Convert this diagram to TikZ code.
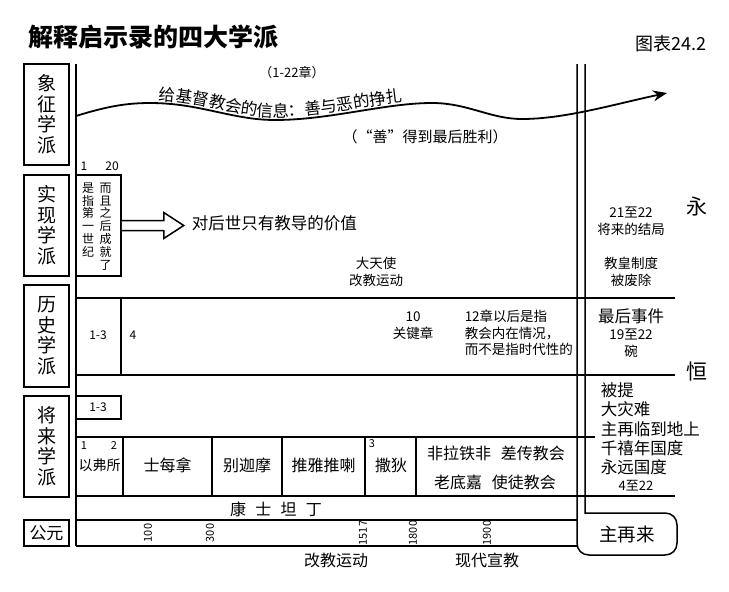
\documentclass[tikz,border=0pt]{standalone}
\usepackage{fontspec}
\setmainfont{Noto Sans CJK SC}
\usepackage{tikz}
\usetikzlibrary{calc,decorations.text,arrows.meta}
\newcommand{\fsz}[2]{\fontsize{#1}{#2}\selectfont}

\begin{document}
\begin{tikzpicture}[x=1pt,y=-1pt,line width=1.5pt,
  school/.style={draw,minimum width=45,minimum height=101,inner sep=0pt,align=center,font=\fsz{19}{20.5}},
  note/.style={inner sep=0pt,align=center,font=\fsz{13.5}{16.5}},
  church/.style={inner sep=0pt,align=center,font=\fsz{16}{18}},
  year/.style={inner sep=0pt,rotate=90,font=\fsz{11}{11}},
  big/.style={inner sep=0pt,font=\fsz{21}{21}}]
\def\XL{76};\def\XA{577};\def\XB{585};\def\XR{675};
\useasboundingbox (0,0) rectangle (729,592);
% heading
\node[anchor=west,inner sep=0pt,font=\fsz{25}{25}\bfseries] (title) at (28,37) {解释启示录的四大学派};
\node[inner sep=0pt,font=\fsz{18}{18}] (chart) at (671,44) {图表24.2};
% schools
\node[school] (symb) at (46.5,114.5) {象\\征\\学\\派};
\node[school] (pret) at (46.5,225.5) {实\\现\\学\\派};
\node[school,minimum height=102] (hist) at (46.5,336) {历\\史\\学\\派};
\node[school] (futu) at (46.5,446.5) {将\\来\\学\\派};
\node[school,minimum height=26,font=\fsz{17}{17}] (ad) at (46.5,533) {公元};
% frame
\draw (\XL,64) -- (\XL,546);
\draw (\XB,64) -- (\XB,513) -- (665,513) .. controls (672,513) and (677,518) .. (677,525)
  -- (677,543) .. controls (677,550) and (672,555) .. (665,555)
  -- (589,555) .. controls (582,555) and (\XA,550) .. (\XA,543) -- (\XA,64);
\draw (\XL,298) -- (\XR,298);
\draw (\XL,375) -- (\XR,375);
\draw (\XL,437) -- (595,437);
\draw (\XL,496) -- (\XR,496);
\draw (\XL,520) -- (\XA,520);
\draw (\XL,546) -- (\XA,546);
\draw (121,298) -- (121,375);
\foreach \x in {123,212,282,365,416} \draw (\x,437) -- (\x,496);
% symbolic
\def\wave{(76,116) .. controls (105,107) and (125,103) .. (150,103)
  .. controls (200,103) and (232,120) .. (275,120)
  .. controls (330,120) and (385,103) .. (432,103)
  .. controls (468,103) and (490,119) .. (522,119)
  .. controls (565,119) and (615,104) .. (667,93)}
\draw[-{Stealth[length=14pt,width=11pt]},line width=1.8pt] \wave;
\path[decorate,decoration={text along path,text align={left indent=84pt},raise=3pt,
  text={|\fsz{16.5}{16.5}|给基督教会的信息：善与恶的挣扎}}] \wave;
\node[inner sep=0pt,font=\fsz{13}{13}] (chap) at (292,73) {（1-22章）};
\node[inner sep=0pt,font=\fsz{15}{15}] (good) at (425,137) {（“善”得到最后胜利）};
% preterist
\node[inner sep=0pt,font=\fsz{12}{12}] (n1) at (84,166) {1};
\node[inner sep=0pt,font=\fsz{12}{12}] (n20) at (112,166) {20};
\node[draw,minimum width=45,minimum height=101,inner sep=0pt] (fc) at (98.5,225.5) {};
\node[anchor=north,inner sep=0pt,align=center,font=\fsz{12}{12.8}] (col1) at (88,182) {是\\指\\第\\一\\世\\纪};
\node[anchor=north,inner sep=0pt,align=center,font=\fsz{12}{12.8}] (col2) at (105.5,182) {而\\且\\之\\后\\成\\就\\了};
\draw[fill=white] ($(fc.east)+(0,-5)$) -- ++(42,0) -- ++(0,-8) -- ++(20,13) -- ++(-20,13) -- ++(0,-8) -- ++(-42,0);
\node[anchor=west,inner sep=0pt,font=\fsz{16.5}{16.5}] (value) at (191,223) {对后世只有教导的价值};
\node[note] (angel) at (376,272) {大天使\\改教运动};
\node[note] (end) at (631,221) {21至22\\将来的结局};
\node[note] (pope) at (631,272) {教皇制度\\被废除};
\node[big] (yong) at (697,207) {永};
% historicist
\node[inner sep=0pt,font=\fsz{12}{12}] (h13) at (98,335) {1-3};
\node[inner sep=0pt,font=\fsz{12}{12}] (h4) at (133,335) {4};
\node[note] (key) at (413,325.5) {10\\关键章};
\node[note,align=left,anchor=west] (inner) at (464,333) {12章以后是指\\教会内在情况，\\而不是指时代性的};
\node[inner sep=0pt,font=\fsz{16.5}{16.5}] (last) at (631,316) {最后事件};
\node[note] (bowl) at (631,343) {19至22\\碗};
\node[big] (heng) at (697,372) {恒};
% futurist
\draw (\XL,396) rectangle (121,419);
\node[inner sep=0pt,font=\fsz{12}{12}] (f13) at (98,407) {1-3};
\node[inner sep=0pt,font=\fsz{11}{11}] (c1) at (84,446) {1};
\node[inner sep=0pt,font=\fsz{11}{11}] (c2) at (114,446) {2};
\node[inner sep=0pt,font=\fsz{11}{11}] (c3) at (372,444) {3};
\node[church,font=\fsz{14}{14}] (ephesus) at (99.5,465) {以弗所};
\node[church] (smyrna) at (167.5,465) {士每拿};
\node[church] (pergamum) at (247,465) {别迦摩};
\node[church] (thyatira) at (323.5,465) {推雅推喇};
\node[church] (sardis) at (391,465) {撒狄};
\node[church] (philadelphia) at (496,453) {非拉铁非\hspace{0.6em}差传教会};
\node[church] (laodicea) at (495,482) {老底嘉\hspace{0.6em}使徒教会};
\node[church] (const) at (276,509) {康\hspace{0.58em}士\hspace{0.58em}坦\hspace{0.58em}丁};
\node[anchor=north west,inner sep=0pt,align=left,font=\fsz{16.5}{19.2}] (events) at (600,382) {被提\\大灾难\\主再临到地上\\千禧年国度\\永远国度};
\node[inner sep=0pt,font=\fsz{13}{13}] (fut) at (636,486) {4至22};
\node[inner sep=0pt,font=\fsz{18.5}{18.5}] (coming) at (627,534) {主再来};
% years
\foreach \yr/\x in {100/148,300/210,1517/363,1800/413,1900/487}
  \node[year] (y\yr) at (\x,533) {\yr};
\node[church] (reform) at (336,560) {改教运动};
\node[church] (mission) at (487,560) {现代宣教};
\end{tikzpicture}
\end{document}
